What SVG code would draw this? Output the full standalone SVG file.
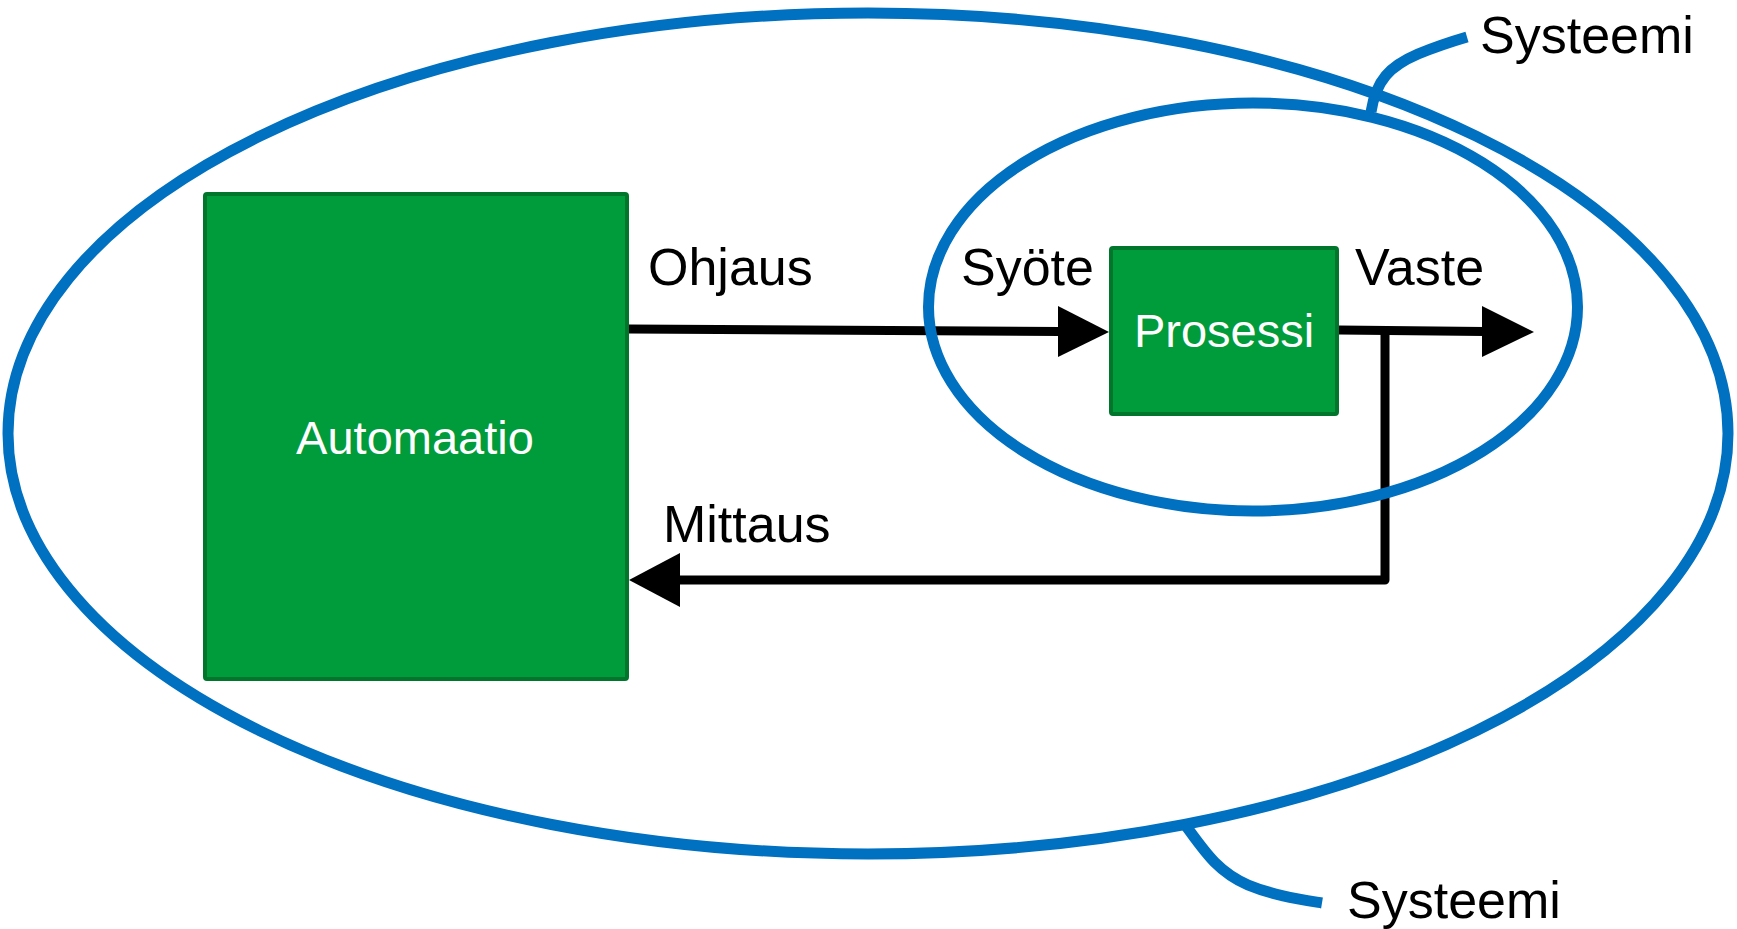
<svg xmlns="http://www.w3.org/2000/svg" width="1737" height="929" viewBox="0 0 1737 929">
<style>
.box{fill:#009B3A;stroke:#00752C;stroke-width:4}
.boxt{font-family:"Liberation Sans",Arial,sans-serif;font-size:47px;fill:#fff;text-anchor:middle}
.lbl{font-family:"Liberation Sans",Arial,sans-serif;font-size:52px;fill:#000}
.ln{fill:none;stroke:#000;stroke-width:9;stroke-linejoin:round}
.sys{fill:none;stroke:#0070C0;stroke-width:11}
.ah{fill:#000}
</style>
<rect width="1737" height="929" fill="#fff"/>
<g id="connectors">
  <path class="ln" d="M629,329 L1060,331.5"/>
  <polygon class="ah" points="1058,306 1109,332 1058,357"/>
  <path class="ln" d="M1339,330 L1484,331.5"/>
  <polygon class="ah" points="1482,306 1534,332 1482,357"/>
  <path class="ln" d="M1385,330 L1385,580 L678,580"/>
  <polygon class="ah" points="680,553 629,580 680,607"/>
</g>
<g id="automaatio">
  <rect class="box" x="205" y="194" width="422" height="485" rx="2"/>
  <text class="boxt" x="415" y="454">Automaatio</text>
</g>
<g id="prosessi">
  <rect class="box" x="1111" y="248" width="226" height="166" rx="2"/>
  <text class="boxt" x="1224" y="347">Prosessi</text>
</g>
<g id="labels">
  <text class="lbl" x="648" y="285">Ohjaus</text>
  <text class="lbl" x="961" y="285">Syöte</text>
  <text class="lbl" x="1355" y="285">Vaste</text>
  <text class="lbl" x="663" y="542">Mittaus</text>
</g>
<g id="outer-system">
  <ellipse class="sys" cx="868" cy="433.5" rx="860" ry="420.5"/>
  <path class="sys" d="M1186,826 C1205,852 1218,872 1248,885 C1272,895 1298,899 1322,903"/>
  <text class="lbl" x="1347" y="918">Systeemi</text>
</g>
<g id="inner-system">
  <ellipse class="sys" cx="1253" cy="307" rx="324.5" ry="204"/>
  <path class="sys" d="M1371,112 C1376,80 1390,66 1418,54 C1435,47 1450,42 1467,37"/>
  <text class="lbl" x="1480" y="53">Systeemi</text>
</g>
</svg>
